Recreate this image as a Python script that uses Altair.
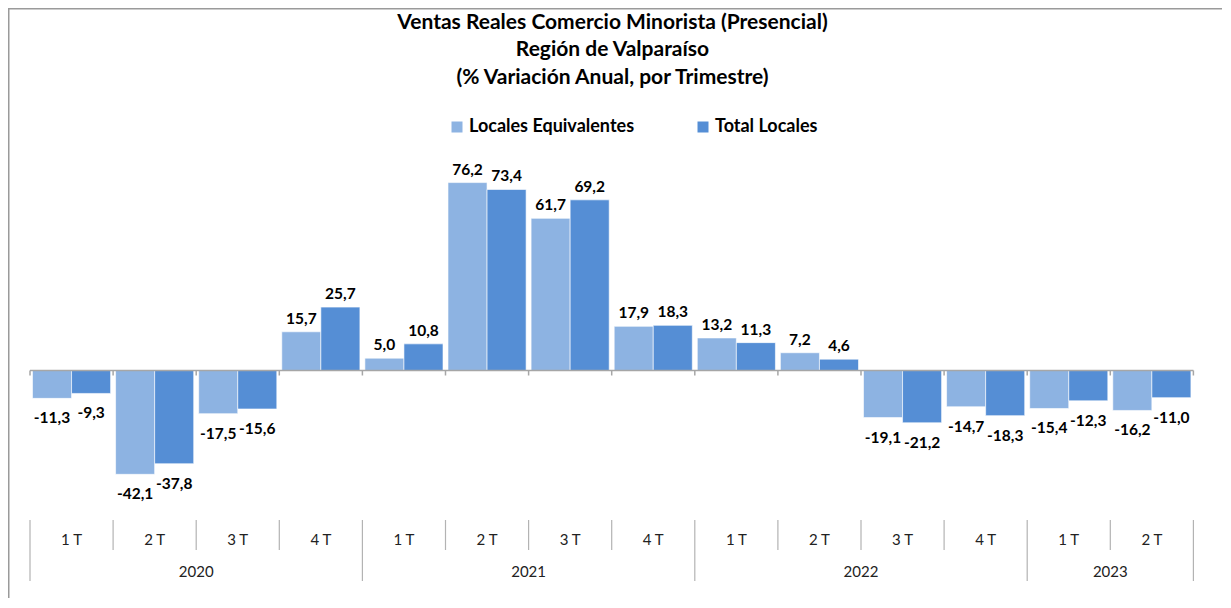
import altair as alt
import pandas as pd

# ---------------- data ----------------
QUARTERS = ["1 T", "2 T", "3 T", "4 T", "1 T", "2 T", "3 T", "4 T",
            "1 T", "2 T", "3 T", "4 T", "1 T", "2 T"]
YEARS = ["2020"] * 4 + ["2021"] * 4 + ["2022"] * 4 + ["2023"] * 2
SERIES = ["Locales Equivalentes", "Total Locales"]
LOCALES_EQUIVALENTES = [-11.3, -42.1, -17.5, 15.7, 5.0, 76.2, 61.7,
                        17.9, 13.2, 7.2, -19.1, -14.7, -15.4, -16.2]
TOTAL_LOCALES = [-9.3, -37.8, -15.6, 25.7, 10.8, 73.4, 69.2,
                 18.3, 11.3, 4.6, -21.2, -18.3, -12.3, -11.0]
TITLE_LINES = ["Ventas Reales Comercio Minorista (Presencial)",
               "Región de Valparaíso",
               "(% Variación Anual, por Trimestre)"]
COLORS = ["#8DB3E2", "#558ED5"]

FONT = "Lato"
W, H = 1214, 590
N = len(QUARTERS)

# ---------------- tables ----------------
rows = []
for s, vals in enumerate([LOCALES_EQUIVALENTES, TOTAL_LOCALES]):
    for i, v in enumerate(vals):
        x0 = i + 0.03 + 0.47 * s
        rows.append({"idx": i, "series": SERIES[s], "value": v, "zero": 0.0,
                     "x0": x0, "x1": x0 + 0.47, "xc": x0 + 0.235,
                     "lab": f"{v:.1f}".replace(".", ",")})
bars_df = pd.DataFrame(rows)

q_df = pd.DataFrame({"quarter": QUARTERS, "year": YEARS,
                     "xc": [i + 0.5 for i in range(N)]})
year_df = q_df.groupby("year", as_index=False)["xc"].mean()

bnd = []
for b in range(N + 1):
    long = b == 0 or b == N or YEARS[b] != YEARS[b - 1]
    bnd.append({"b": b, "z": 0.0, "kind": "long" if long else "short"})
bnd_df = pd.DataFrame(bnd)
zero_df = pd.DataFrame({"x": [0], "x2": [N], "z": [0.0]})
one = pd.DataFrame({"k": [0]})

# ---------------- scales ----------------
xscale = alt.Scale(domain=[-22 / 83.1, (W - 22) / 83.1], nice=False, zero=False)
ymax = 362.5 / 2.466
yscale = alt.Scale(domain=[ymax - H / 2.466, ymax], nice=False, zero=False)


def X(f):
    return alt.X(f, scale=xscale, axis=None)


def Y(f):
    return alt.Y(f, scale=yscale, axis=None)


bars = alt.Chart(bars_df).mark_bar(stroke="white", strokeWidth=0.6).encode(
    x=X("x0:Q"), x2="x1:Q",
    y=Y("value:Q"), y2="zero:Q",
    color=alt.Color("series:N",
                    scale=alt.Scale(domain=SERIES, range=COLORS),
                    legend=alt.Legend(title=None, orient="none",
                                      direction="horizontal",
                                      legendX=440, legendY=110,
                                      symbolType="square", symbolSize=121,
                                      symbolStrokeWidth=0, symbolOpacity=1,
                                      labelFont=FONT, labelFontSize=18,
                                      labelFontWeight="bold", labelColor="black",
                                      labelLimit=400,
                                      labelOffset=3, columnPadding=59,
                                      padding=0)),
)

lbl_style = dict(font=FONT, fontSize=15.5, fontWeight="bold", color="black",
                 baseline="alphabetic", align="center")
lab_pos = alt.Chart(bars_df).transform_filter("datum.value >= 0").mark_text(
    dy=-8, **lbl_style).encode(x=X("xc:Q"), y=Y("value:Q"), text="lab:N")
lab_neg = alt.Chart(bars_df).transform_filter("datum.value < 0").mark_text(
    dy=25, **lbl_style).encode(x=X("xc:Q"), y=Y("value:Q"), text="lab:N")

zero_line = alt.Chart(zero_df).mark_rule(color="#a6a6a6", strokeWidth=1.5).encode(
    x=X("x:Q"), x2="x2:Q", y=Y("z:Q"))
zero_ticks = alt.Chart(bnd_df).mark_rule(color="#a6a6a6", strokeWidth=1.5,
                                         y2Offset=5).encode(
    x=X("b:Q"), y=Y("z:Q"), y2="z:Q")

sep_short = alt.Chart(bnd_df).transform_filter("datum.kind == 'short'").mark_rule(
    color="#b3b3b3", strokeWidth=1.2).encode(
    x=X("b:Q"), y=alt.value(512), y2=alt.value(542))
sep_long = alt.Chart(bnd_df).transform_filter("datum.kind == 'long'").mark_rule(
    color="#b3b3b3", strokeWidth=1.2).encode(
    x=X("b:Q"), y=alt.value(512), y2=alt.value(573))

q_text = alt.Chart(q_df).mark_text(font=FONT, fontSize=15, color="#222222",
                                   baseline="alphabetic").encode(
    x=X("xc:Q"), y=alt.value(537), text="quarter:N")
y_text = alt.Chart(year_df).mark_text(font=FONT, fontSize=15, color="#222222",
                                      baseline="alphabetic").encode(
    x=X("xc:Q"), y=alt.value(569), text="year:N")

title_layers = []
for i, line in enumerate(TITLE_LINES):
    title_layers.append(
        alt.Chart(pd.DataFrame({"t": [line]})).mark_text(
            font=FONT, fontSize=21, fontWeight="bold", color="black",
            baseline="alphabetic", align="center").encode(
            x=alt.value(604.5), y=alt.value(20.5 + 27.7 * i), text="t:N"))

border_left = alt.Chart(one).mark_rule(color="#9a9a9a", strokeWidth=1.5).encode(
    x=alt.value(0.75), y=alt.value(0), y2=alt.value(H))
border_top = alt.Chart(one).mark_rule(color="#9a9a9a", strokeWidth=1.5).encode(
    x=alt.value(0), x2=alt.value(W), y=alt.value(0.75))

chart = alt.layer(
    border_left, border_top, *title_layers,
    bars, zero_line, zero_ticks, lab_pos, lab_neg,
    sep_short, sep_long, q_text, y_text,
).properties(
    width=W, height=H, padding=0,
    autosize=alt.AutoSizeParams(type="none"),
).configure_view(stroke=None)

chart.save("out.html", embed_options={"renderer": "svg", "actions": False})
